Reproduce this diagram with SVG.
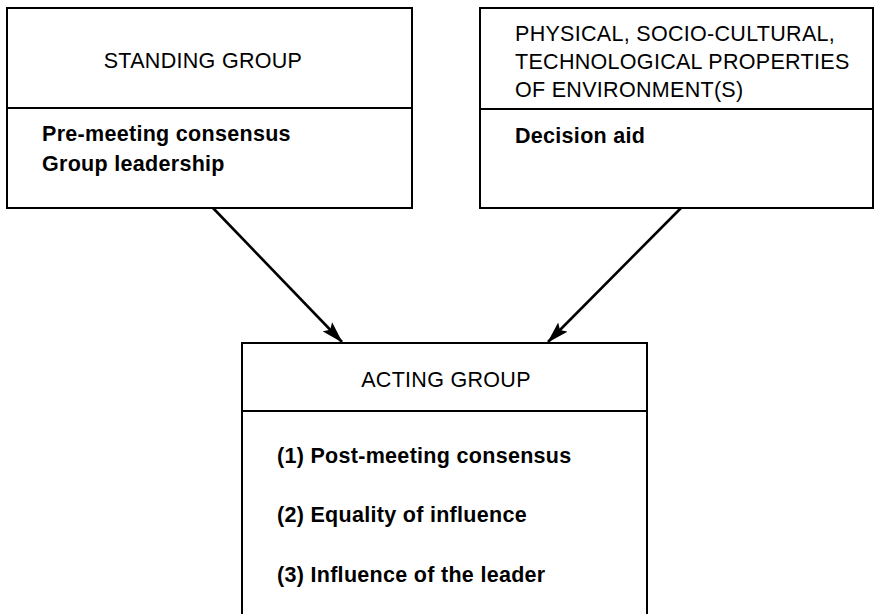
<svg xmlns="http://www.w3.org/2000/svg" width="874" height="614" viewBox="0 0 874 614">
<style>
  .box{fill:#fff;stroke:#000;stroke-width:2}
  .div{stroke:#000;stroke-width:2}
  .hdr{font-family:"Liberation Sans",Arial,sans-serif;font-size:21.5px;letter-spacing:0.3px;fill:#000}
  .itm{font-family:"Liberation Sans",Arial,sans-serif;font-size:21.5px;font-weight:bold;letter-spacing:0.3px;fill:#000}
  .conn{stroke:#000;stroke-width:2.6;fill:none}
</style>
<defs>
  <marker id="ah" markerUnits="userSpaceOnUse" markerWidth="22" markerHeight="14" refX="21" refY="7" orient="auto">
    <path d="M0,0.5 L22,7 L0,13.5 L4,7 z" fill="#000"/>
  </marker>
</defs>
<rect width="874" height="614" fill="#fff"/>
<g id="standing-group">
  <rect class="box" x="7" y="8" width="405" height="200"/>
  <line class="div" x1="7" y1="108" x2="412" y2="108"/>
  <text class="hdr" x="203" y="68" text-anchor="middle">STANDING GROUP</text>
  <text class="itm" x="42" y="141">Pre-meeting consensus</text>
  <text class="itm" x="42" y="171">Group leadership</text>
</g>
<g id="environment">
  <rect class="box" x="480" y="8" width="393" height="200"/>
  <line class="div" x1="480" y1="109" x2="873" y2="109"/>
  <text class="hdr" x="515" y="41">PHYSICAL, SOCIO-CULTURAL,</text>
  <text class="hdr" x="515" y="69">TECHNOLOGICAL PROPERTIES</text>
  <text class="hdr" x="515" y="97">OF ENVIRONMENT(S)</text>
  <text class="itm" x="515" y="143">Decision aid</text>
</g>
<g id="acting-group">
  <rect class="box" x="242" y="343" width="405" height="290"/>
  <line class="div" x1="242" y1="411" x2="647" y2="411"/>
  <text class="hdr" x="446" y="387" text-anchor="middle">ACTING GROUP</text>
  <text class="itm" x="277" y="463">(1) Post-meeting consensus</text>
  <text class="itm" x="277" y="522">(2) Equality of influence</text>
  <text class="itm" x="277" y="582">(3) Influence of the leader</text>
</g>
<g id="connectors">
  <line class="conn" x1="213" y1="208" x2="342" y2="342" marker-end="url(#ah)"/>
  <line class="conn" x1="681" y1="208" x2="548" y2="342" marker-end="url(#ah)"/>
</g>
</svg>
